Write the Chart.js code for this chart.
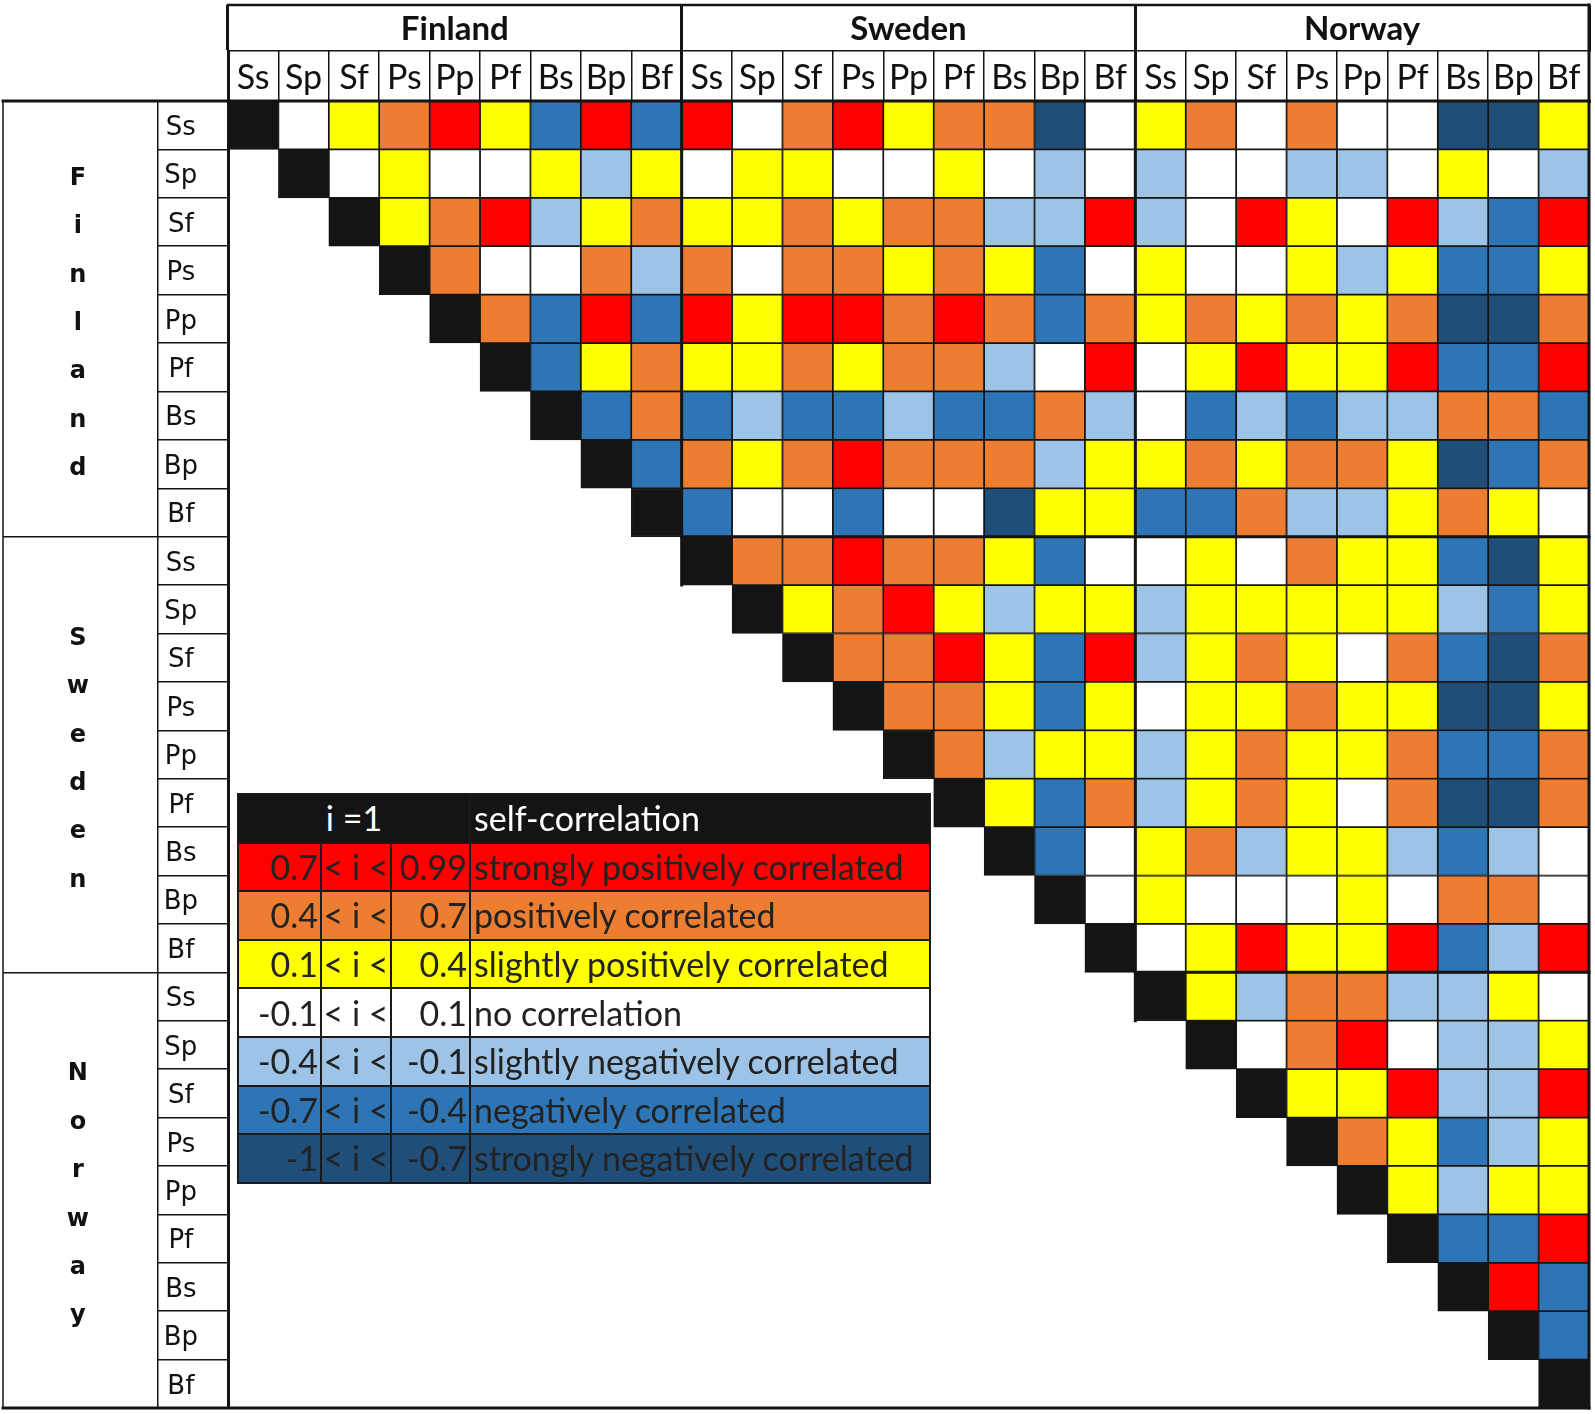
<!DOCTYPE html>
<html>
<head>
<meta charset="utf-8">
<title>Correlation matrix</title>
<script src="https://cdn.jsdelivr.net/npm/chart.js@4.4.1/dist/chart.umd.min.js"></script>
<style>
  html, body { margin: 0; padding: 0; background: #fff; }
  #wrap { position: relative; width: 1595px; height: 1414px; overflow: hidden; }
  #chart { position: absolute; left: 0; top: 0; }
  #legend {
    position: absolute; left: 237px; top: 793px; width: 692px;
    border-collapse: collapse; table-layout: fixed;
    font-family: Lato, sans-serif; font-size: 34px; color: #222;
  }
  #legend td { border: 2px solid #1a1a1a; padding: 0 3px; white-space: nowrap; overflow: hidden; line-height: 1; }
  #legend tr { height: 48.6px; }
  #legend td.num { text-align: right; padding-right: 2px; }
  #legend td.mid { text-align: center; padding: 0; }
  #legend td.head { text-align: center; }
</style>
</head>
<body>
<div id="wrap">
  <canvas id="chart" width="1595" height="1414"></canvas>
  <table id="legend"></table>
</div>
<script>
// species codes, repeated in each country block
const codes = ['Ss', 'Sp', 'Sf', 'Ps', 'Pp', 'Pf', 'Bs', 'Bp', 'Bf'];
const countries = ['Finland', 'Sweden', 'Norway'];

// correlation class of the cells right of the diagonal, row by row
// 3 strong +, 2 +, 1 slight +, 0 none, -1 slight -, -2 -, -3 strong -
const fiSs = [0, 1, 2, 3, 1, -2, 3, -2, 3, 0, 2, 3, 1, 2, 2, -3, 0, 1, 2, 0, 2, 0, 0, -3, -3, 1];
const fiSp = [0, 1, 0, 0, 1, -1, 1, 0, 1, 1, 0, 0, 1, 0, -1, 0, -1, 0, 0, -1, -1, 0, 1, 0, -1];
const fiSf = [1, 2, 3, -1, 1, 2, 1, 1, 2, 1, 2, 2, -1, -1, 3, -1, 0, 3, 1, 0, 3, -1, -2, 3];
const fiPs = [2, 0, 0, 2, -1, 2, 0, 2, 2, 1, 2, 1, -2, 0, 1, 0, 0, 1, -1, 1, -2, -2, 1];
const fiPp = [2, -2, 3, -2, 3, 1, 3, 3, 2, 3, 2, -2, 2, 1, 2, 1, 2, 1, 2, -3, -3, 2];
const fiPf = [-2, 1, 2, 1, 1, 2, 1, 2, 2, -1, 0, 3, 0, 1, 3, 1, 1, 3, -2, -2, 3];
const fiBs = [-2, 2, -2, -1, -2, -2, -1, -2, -2, 2, -1, 0, -2, -1, -2, -1, -1, 2, 2, -2];
const fiBp = [-2, 2, 1, 2, 3, 2, 2, 2, -1, 1, 1, 2, 1, 2, 2, 1, -3, -2, 2];
const fiBf = [-2, 0, 0, -2, 0, 0, -3, 1, 1, -2, -2, 2, -1, -1, 1, 2, 1, 0];
const seSs = [2, 2, 3, 2, 2, 1, -2, 0, 0, 1, 0, 2, 1, 1, -2, -3, 1];
const seSp = [1, 2, 3, 1, -1, 1, 1, -1, 1, 1, 1, 1, 1, -1, -2, 1];
const seSf = [2, 2, 3, 1, -2, 3, -1, 1, 2, 1, 0, 2, -2, -3, 2];
const sePs = [2, 2, 1, -2, 1, 0, 1, 1, 2, 1, 1, -3, -3, 1];
const sePp = [2, -1, 1, 1, -1, 1, 2, 1, 1, 2, -2, -2, 2];
const sePf = [1, -2, 2, -1, 1, 2, 1, 0, 2, -3, -3, 2];
const seBs = [-2, 0, 1, 2, -1, 1, 1, -1, -2, -1, 0];
const seBp = [0, 1, 0, 0, 0, 1, 0, 2, 2, 0];
const seBf = [0, 1, 3, 1, 1, 3, -2, -1, 3];
const noSs = [1, -1, 2, 2, -1, -1, 1, 0];
const noSp = [0, 2, 3, 0, -1, -1, 1];
const noSf = [1, 1, 3, -1, -1, 3];
const noPs = [2, 1, -2, -1, 1];
const noPp = [1, -1, 1, 1];
const noPf = [-2, -2, 3];
const noBs = [3, -2];
const noBp = [-2];
const noBf = [];

const matrixRows = [fiSs, fiSp, fiSf, fiPs, fiPp, fiPf, fiBs, fiBp, fiBf,
                    seSs, seSp, seSf, sePs, sePp, sePf, seBs, seBp, seBf,
                    noSs, noSp, noSf, noPs, noPp, noPf, noBs, noBp, noBf];

// legend table
const legendClass = [3, 2, 1, 0, -1, -2, -3];
const legendLow = ['0.7', '0.4', '0.1', '-0.1', '-0.4', '-0.7', '-1'];
const legendHigh = ['0.99', '0.7', '0.4', '0.1', '-0.1', '-0.4', '-0.7'];
const legendText = ['strongly positively correlated', 'positively correlated', 'slightly positively correlated',
                    'no correlation', 'slightly negatively correlated', 'negatively correlated',
                    'strongly negatively correlated'];

const classColor = {
  '3': '#FF0000', '2': '#ED7D31', '1': '#FFFF00', '0': '#FFFFFF',
  '-1': '#9DC3E6', '-2': '#2E75B6', '-3': '#1F4E79', self: '#141414'
};

const n = codes.length * countries.length;
const colLabels = countries.flatMap(() => codes);
const countryLetters = countries.map(c => c.split(''));
const lineColor = '#141414';

// one floating-bar dataset per matrix row
const datasets = matrixRows.map((vals, i) => {
  const data = [], colors = [];
  for (let j = 0; j < n; j++) {
    if (j < i) { data.push(null); colors.push('rgba(0,0,0,0)'); continue; }
    data.push([i, i + 1]);
    colors.push(j === i ? classColor.self : classColor[vals[j - i - 1]]);
  }
  return {
    label: countries[Math.floor(i / 9)] + ' ' + codes[i % 9],
    data,
    backgroundColor: colors,
    borderColor: lineColor,
    borderWidth: 1.2,
    borderSkipped: false,
    barPercentage: 1,
    categoryPercentage: 1,
    grouped: false,
    xAxisID: 'x',
    yAxisID: 'y'
  };
});

const noPad = s => { s.paddingLeft = s.paddingRight = s.paddingTop = s.paddingBottom = 0; };
const blockLine = ctx => (ctx.index % 9 === 0 ? 3 : 1.5);

// outer frame and the thicker country-block lines
const tableLines = {
  id: 'tableLines',
  afterDraw(chart) {
    const { ctx, chartArea: a } = chart;
    const sx = chart.scales.x, sTop = chart.scales.x2, sy = chart.scales.y, sLeft = chart.scales.yCountry;
    const cw = sx.getPixelForValue(1) - sx.getPixelForValue(0);
    const colEdge = k => sx.getPixelForValue(k) - cw / 2;
    const line = (x1, y1, x2, y2, w) => {
      ctx.lineWidth = w;
      ctx.beginPath();
      ctx.moveTo(x1, y1);
      ctx.lineTo(x2, y2);
      ctx.stroke();
    };
    ctx.save();
    ctx.strokeStyle = lineColor;
    ctx.lineCap = 'square';
    line(a.left, sTop.top, a.right, sTop.top, 2.5);
    line(sLeft.left, a.top, a.right, a.top, 3);
    line(sLeft.left, a.bottom, a.right, a.bottom, 3);
    line(a.right, sTop.top, a.right, a.bottom, 3);
    line(sLeft.left, a.top, sLeft.left, a.bottom, 1.5);
    [9, 18].forEach(k => {
      line(colEdge(k), a.top, colEdge(k), sy.getPixelForValue(k + 1), 3);
      line(colEdge(k), sy.getPixelForValue(k), a.right, sy.getPixelForValue(k), 3);
    });
    ctx.restore();
  }
};

new Chart(document.getElementById('chart'), {
  type: 'bar',
  data: { labels: colLabels, datasets },
  options: {
    responsive: false,
    devicePixelRatio: 1,
    animation: false,
    events: [],
    layout: { autoPadding: false, padding: { top: 5, left: 3, right: 6, bottom: 6 } },
    plugins: { legend: { display: false }, tooltip: { enabled: false } },
    scales: {
      x: {
        axis: 'x', type: 'category', position: 'top', weight: 0, offset: true,
        grid: { offset: true, drawOnChartArea: false, tickLength: 50, color: lineColor, lineWidth: blockLine },
        border: { display: true, color: lineColor, width: 3 },
        ticks: { autoSkip: false, maxRotation: 0, minRotation: 0, color: '#111', padding: -44,
                 font: { family: 'Lato', size: 34, lineHeight: 1 } },
        afterFit: s => { s.height = 50; noPad(s); }
      },
      x2: {
        axis: 'x', type: 'category', labels: countries, position: 'top', weight: 1, offset: true,
        grid: { offset: true, drawOnChartArea: false, tickLength: 46, color: lineColor, lineWidth: 3 },
        border: { display: true, color: lineColor, width: 1.5 },
        ticks: { autoSkip: false, maxRotation: 0, minRotation: 0, color: '#111', padding: -40.5,
                 font: { family: 'Lato', size: 33, weight: 'bold', lineHeight: 1 } },
        afterFit: s => { s.height = 46; noPad(s); }
      },
      y: { axis: 'y', type: 'linear', min: 0, max: n, reverse: true, display: false },
      yRows: {
        axis: 'y', type: 'category', labels: colLabels, position: 'left', weight: 0, offset: true,
        grid: { offset: true, drawOnChartArea: false, tickLength: 70, color: lineColor, lineWidth: 1.5 },
        border: { display: true, color: lineColor, width: 3 },
        ticks: { autoSkip: false, crossAlign: 'center', padding: -40, labelOffset: 3, color: '#111',
                 font: { family: 'DejaVu Sans', size: 26, lineHeight: 1 } },
        afterFit: s => { s.width = 70; noPad(s); }
      },
      yCountry: {
        axis: 'y', type: 'category', labels: countryLetters, position: 'left', weight: 1, offset: true,
        grid: { offset: true, drawOnChartArea: false, tickLength: 155, color: lineColor, lineWidth: 1.5 },
        border: { display: true, color: lineColor, width: 1.5 },
        ticks: { autoSkip: false, crossAlign: 'center', padding: -86, labelOffset: 5, color: '#111',
                 font: { family: 'DejaVu Sans', size: 24, weight: 'bold', lineHeight: 48.4 / 24 } },
        afterFit: s => { s.width = 155; noPad(s); }
      }
    }
  },
  plugins: [tableLines]
});

// legend table drawn as html over the empty lower triangle
let html = '<colgroup><col style="width:83px"><col style="width:70px"><col style="width:79px"><col style="width:460px"></colgroup>';
html += `<tr style="background:${classColor.self};color:#fff"><td colspan="3" class="head">i =1</td><td>self-correlation</td></tr>`;
legendClass.forEach((c, k) => {
  html += `<tr style="background:${classColor[c]}"><td class="num">${legendLow[k]}</td><td class="mid">&lt; i &lt;</td>` +
          `<td class="num">${legendHigh[k]}</td><td>${legendText[k]}</td></tr>`;
});
document.getElementById('legend').innerHTML = html;
</script>
</body>
</html>
